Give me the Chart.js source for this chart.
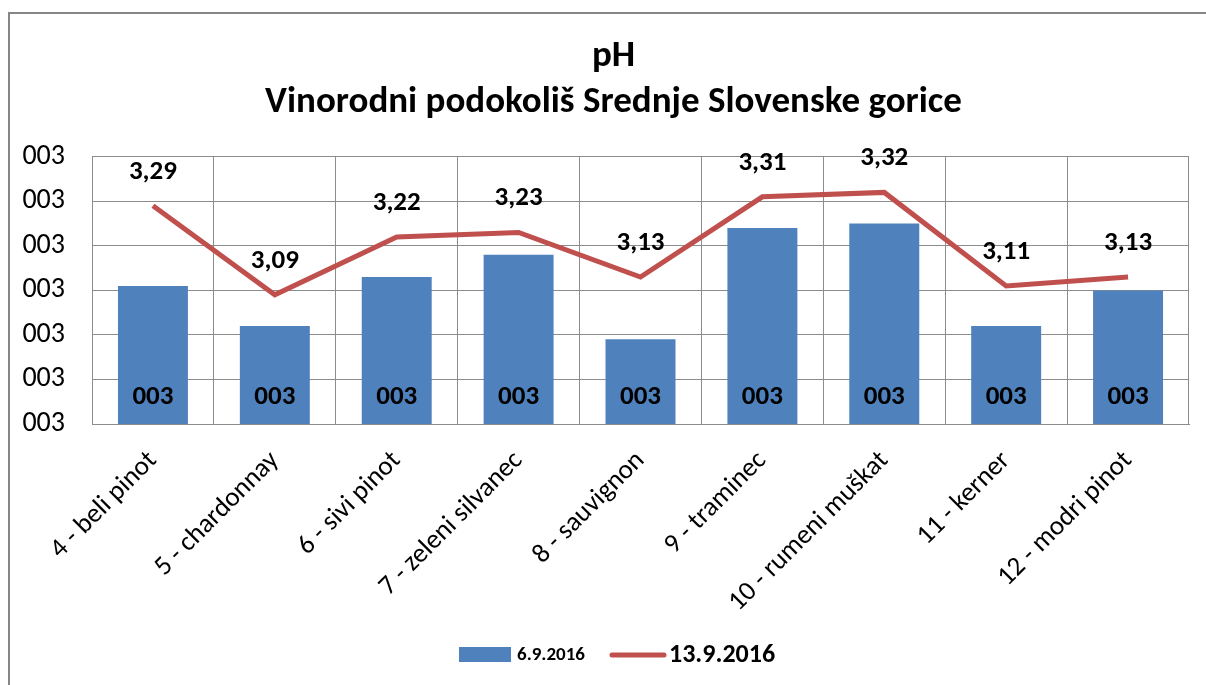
<!DOCTYPE html>
<html>
<head>
<meta charset="utf-8">
<script src="https://cdn.jsdelivr.net/npm/chart.js@4.4.1/dist/chart.umd.min.js"></script>
<style>
  html, body { margin: 0; padding: 0; background: #fff; overflow: hidden; }
  #frame { position: absolute; left: 8px; top: 12px; width: 1210px; height: 700px; border: 2px solid #868686; box-sizing: border-box; }
  #wrap { position: absolute; left: 0; top: 0; width: 1206px; height: 685px; }
</style>
</head>
<body>
<div id="frame"></div>
<div id="wrap"><canvas id="chart" width="1206" height="685"></canvas></div>
<script>
// data
const categories = ['4 - beli pinot', '5 - chardonnay', '6 - sivi pinot', '7 - zeleni silvanec',
  '8 - sauvignon', '9 - traminec', '10 - rumeni muškat', '11 - kerner', '12 - modri pinot'];
const ph_0609 = [3.11, 3.02, 3.13, 3.18, 2.99, 3.24, 3.25, 3.02, 3.10];
const ph_1309 = [3.29, 3.09, 3.22, 3.23, 3.13, 3.31, 3.32, 3.11, 3.13];
const seriesNames = ['6.9.2016', '13.9.2016'];
const yMin = 2.8, yMax = 3.4, yStep = 0.1;

const FONT = 'Carlito, Calibri, Lato, sans-serif';
const BLUE = '#4f81bd';
const RED = '#c0504d';

// excel style "000" number format
function fmt000(v) { return String(Math.round(v)).padStart(3, '0'); }
function fmtComma(v) { return v.toFixed(2).replace('.', ','); }

// value labels on bars and line
const labelsPlugin = {
  id: 'valueLabels',
  afterLayout(chart) {
    // excel centres the title on the whole chart box, not the padded one
    if (chart.titleBlock) chart.titleBlock.right += 38;
  },
  afterDatasetsDraw(chart) {
    const ctx = chart.ctx;
    const base = chart.scales.y.bottom;
    ctx.save();
    ctx.fillStyle = '#000';
    ctx.textAlign = 'center';
    ctx.textBaseline = 'middle';
    ctx.font = 'bold 27px ' + FONT;
    chart.getDatasetMeta(0).data.forEach((b, i) => {
      ctx.fillText(fmt000(chart.data.datasets[0].data[i]), b.x, base - 27);
    });
    chart.getDatasetMeta(1).data.forEach((p, i) => {
      ctx.fillText(fmtComma(chart.data.datasets[1].data[i]), p.x, p.y - 34);
    });
    ctx.restore();
  }
};

// legend drawn like excel: different text sizes per entry
const legendPlugin = {
  id: 'xlLegend',
  afterDraw(chart) {
    const ctx = chart.ctx;
    const ds = chart.data.datasets;
    const y = 655;
    ctx.save();
    ctx.textBaseline = 'middle';
    ctx.textAlign = 'left';
    ctx.fillStyle = ds[0].backgroundColor;
    ctx.fillRect(459, y - 8, 52, 15);
    ctx.fillStyle = '#000';
    ctx.font = 'bold 19px ' + FONT;
    ctx.fillText(ds[0].label, 517, y);
    ctx.strokeStyle = ds[1].borderColor;
    ctx.lineWidth = 5;
    ctx.lineCap = 'round';
    ctx.beginPath();
    ctx.moveTo(612, y);
    ctx.lineTo(664, y);
    ctx.stroke();
    ctx.font = 'bold 26px ' + FONT;
    ctx.fillText(ds[1].label, 669, y);
    ctx.restore();
  }
};

new Chart(document.getElementById('chart'), {
  data: {
    labels: categories,
    datasets: [
      {
        type: 'bar',
        label: seriesNames[0],
        data: ph_0609,
        backgroundColor: BLUE,
        categoryPercentage: 0.574,
        barPercentage: 1,
        order: 2
      },
      {
        type: 'line',
        label: seriesNames[1],
        data: ph_1309,
        borderColor: RED,
        borderWidth: 5,
        pointRadius: 0,
        tension: 0,
        fill: false,
        order: 1
      }
    ]
  },
  options: {
    responsive: false,
    animation: false,
    layout: { padding: { left: 0, right: 17, top: 34, bottom: 0 } },
    plugins: {
      legend: { display: false },
      tooltip: { enabled: false },
      title: {
        display: true,
        text: ['pH', 'Vinorodni podokoliš Srednje Slovenske gorice'],
        color: '#000',
        font: { family: FONT, size: 37, weight: 'bold', lineHeight: 1.24 },
        padding: { top: 0, bottom: 31 }
      }
    },
    scales: {
      x: {
        grid: { color: '#8c8c8c', lineWidth: 1, drawTicks: false, offset: true },
        border: { color: '#8c8c8c' },
        ticks: {
          color: '#000',
          font: { family: FONT, size: 27 },
          maxRotation: 45,
          minRotation: 45,
          padding: 21
        },
        afterFit(scale) { scale.height = 261; }
      },
      y: {
        min: yMin,
        max: yMax,
        grid: { color: '#8c8c8c', lineWidth: 1, drawTicks: false },
        border: { color: '#8c8c8c' },
        ticks: {
          stepSize: yStep,
          color: '#000',
          font: { family: FONT, size: 28 },
          padding: 27,
          callback: (v) => fmt000(v)
        },
        afterFit(scale) { scale.width = 92; }
      }
    }
  },
  plugins: [labelsPlugin, legendPlugin]
});
</script>
</body>
</html>
